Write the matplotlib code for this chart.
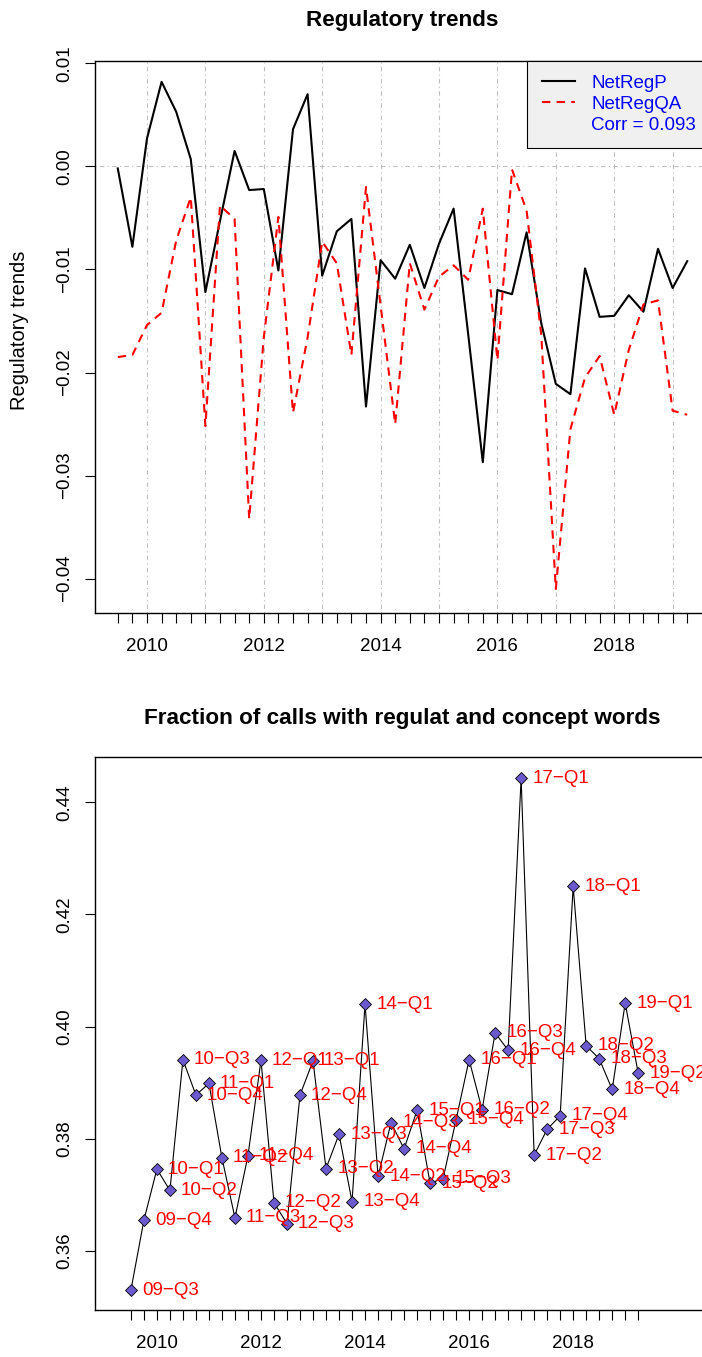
import matplotlib
matplotlib.use('Agg')
import matplotlib.pyplot as plt
from matplotlib.lines import Line2D
from matplotlib.ticker import FuncFormatter

plt.rcParams['font.family'] = ['Liberation Sans', 'DejaVu Sans']

## data
quarters = ['09-Q3', '09-Q4',
            '10-Q1', '10-Q2', '10-Q3', '10-Q4',
            '11-Q1', '11-Q2', '11-Q3', '11-Q4',
            '12-Q1', '12-Q2', '12-Q3', '12-Q4',
            '13-Q1', '13-Q2', '13-Q3', '13-Q4',
            '14-Q1', '14-Q2', '14-Q3', '14-Q4',
            '15-Q1', '15-Q2', '15-Q3', '15-Q4',
            '16-Q1', '16-Q2', '16-Q3', '16-Q4',
            '17-Q1', '17-Q2', '17-Q3', '17-Q4',
            '18-Q1', '18-Q2', '18-Q3', '18-Q4',
            '19-Q1', '19-Q2']

net_reg_p = [-0.0002, -0.0078,
             0.0027, 0.0082, 0.0053, 0.0007,
             -0.0122, -0.0053, 0.0015, -0.0023,
             -0.0022, -0.0101, 0.0036, 0.0070,
             -0.0106, -0.0063, -0.0051, -0.0233,
             -0.0091, -0.0109, -0.0076, -0.0118,
             -0.0075, -0.0041, -0.0163, -0.0287,
             -0.0120, -0.0124, -0.0064, -0.0152,
             -0.0211, -0.0221, -0.0099, -0.0146,
             -0.0145, -0.0125, -0.0141, -0.0080,
             -0.0118, -0.0092]

net_reg_qa = [-0.0185, -0.0183,
              -0.0154, -0.0142, -0.0072, -0.0030,
              -0.0252, -0.0038, -0.0051, -0.0342,
              -0.0166, -0.0049, -0.0239, -0.0166,
              -0.0073, -0.0094, -0.0183, -0.0020,
              -0.0135, -0.0250, -0.0094, -0.0139,
              -0.0107, -0.0096, -0.0110, -0.0041,
              -0.0188, -0.0003, -0.0043, -0.0163,
              -0.0410, -0.0255, -0.0205, -0.0184,
              -0.0241, -0.0178, -0.0134, -0.0130,
              -0.0237, -0.0241]

frac_calls = [0.3530, 0.3655,
              0.3746, 0.3708, 0.3941, 0.3878,
              0.3899, 0.3766, 0.3659, 0.3770,
              0.3940, 0.3686, 0.3649, 0.3878,
              0.3939, 0.3747, 0.3808, 0.3688,
              0.4040, 0.3733, 0.3829, 0.3782,
              0.3851, 0.3721, 0.3729, 0.3834,
              0.3941, 0.3852, 0.3989, 0.3958,
              0.4443, 0.3771, 0.3817, 0.3841,
              0.4250, 0.3966, 0.3943, 0.3888,
              0.4042, 0.3917]

year_labels = [2010, 2012, 2014, 2016, 2018]
grid_years = [2010, 2011, 2012, 2013, 2014, 2015, 2016, 2017, 2018, 2019]
top_yticks = [-0.04, -0.03, -0.02, -0.01, 0.00, 0.01]
bot_yticks = [0.36, 0.38, 0.40, 0.42, 0.44]
corr_text = 'Corr = 0.093'

MINUS = '\u2212'


def qtime(q):
    yy, qq = q.split('-Q')
    return 2000 + int(yy) + (int(qq) - 1) / 4.0


t = [qtime(q) for q in quarters]
fs = 13.5


def style_axis(ax, yticks):
    ax.set_xticks(t)
    ax.set_xticklabels([str(int(x)) if x == int(x) and int(x) in year_labels else '' for x in t])
    ax.set_yticks(yticks)
    ax.yaxis.set_major_formatter(FuncFormatter(lambda v, p: ('%.2f' % v).replace('-', MINUS)))
    ax.tick_params(direction='out', length=7.5, width=0.8, labelsize=fs, colors='black')
    ax.tick_params(axis='x', pad=10.5)
    ax.tick_params(axis='y', pad=8, labelrotation=90)
    for lab in ax.get_yticklabels():
        lab.set_va('center')
    for s in ax.spines.values():
        s.set_linewidth(1.0)


fig = plt.figure(figsize=(7.02, 13.57), dpi=100)

## 1. regulatory trends
ax1 = fig.add_axes([95 / 702, 1 - 612.7 / 1357, 615 / 702, 552 / 1357])
for yr in grid_years:
    ax1.axvline(yr, color='#BEBEBE', lw=0.8, ls=(0, (1, 3, 4, 3)), zorder=0.5)
ax1.axhline(0, color='#BEBEBE', lw=0.8, ls=(0, (1, 3, 4, 3)), zorder=0.5)
ax1.plot(t, net_reg_p, color='black', lw=1.5)
ax1.plot(t, net_reg_qa, color='red', lw=1.5, ls=(0, (4, 3)))
ax1.set_xlim(2009.11, 2019.64)
ax1.set_ylim(-0.0433, 0.01025)
style_axis(ax1, top_yticks)
ax1.set_title('Regulatory trends', fontsize=16.2, fontweight='bold', pad=25)
ax1.set_ylabel('Regulatory trends', fontsize=14.5)
ax1.yaxis.label.set_va('center')
ax1.yaxis.set_label_coords((20 - 95) / 615, 0.512)

h1 = Line2D([], [], color='black', lw=1.5)
h2 = Line2D([], [], color='red', lw=1.5, ls=(0, (4, 3)))
h3 = Line2D([], [], color='none')
leg = ax1.legend([h1, h2, h3], ['NetRegP', 'NetRegQA', corr_text], loc='upper right',
                 borderaxespad=0, fancybox=False, facecolor='#F0F0F0', edgecolor='black',
                 framealpha=1, labelcolor='#0000FF', fontsize=fs, handlelength=1.8,
                 handletextpad=0.85, labelspacing=0.2, borderpad=0.75)
leg.get_frame().set_linewidth(0.8)

## 2. fraction of calls
ax2 = fig.add_axes([95 / 702, 1 - 1310 / 1357, 615 / 702, 553 / 1357])
ax2.plot(t, frac_calls, color='black', lw=0.8, marker='D', ms=5.8,
         mfc='#6A5ACD', mec='black', mew=0.6)
for q, x, y in zip(quarters, t, frac_calls):
    ax2.annotate(q.replace('-', MINUS), (x, y), xytext=(8, 0), textcoords='offset points',
                 color='red', fontsize=fs, ha='left', va='center')
ax2.set_xlim(2008.81, 2020.63)
ax2.set_ylim(0.34948, 0.44808)
style_axis(ax2, bot_yticks)
ax2.set_title('Fraction of calls with regulat and concept words', fontsize=16.2,
              fontweight='bold', pad=24)

fig.savefig('out.png', dpi=100)
